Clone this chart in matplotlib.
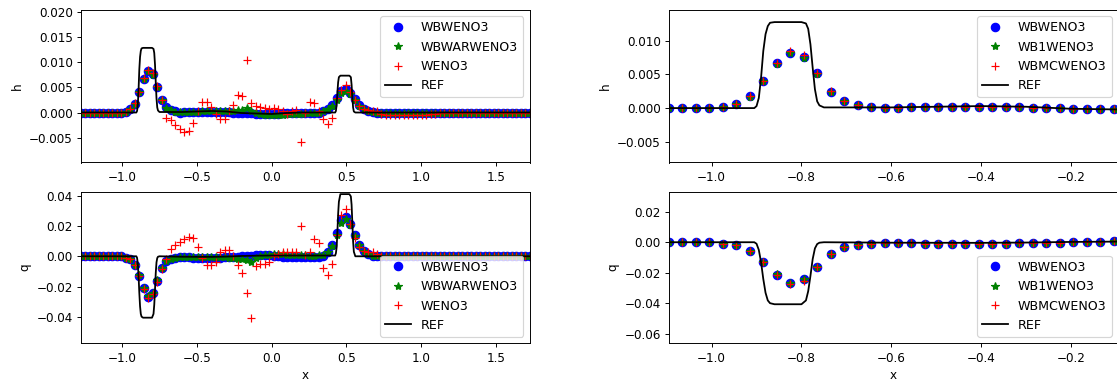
import matplotlib
matplotlib.use("Agg")
import matplotlib.pyplot as plt
from matplotlib.ticker import MultipleLocator

# ---------------- data ----------------
x = [-1.275, -1.245, -1.215, -1.185, -1.155, -1.125, -1.095, -1.065, -1.035, -1.005,
     -0.975, -0.945, -0.915, -0.885, -0.855, -0.825, -0.795, -0.765, -0.735, -0.705,
     -0.675, -0.645, -0.615, -0.585, -0.555, -0.525, -0.495, -0.465, -0.435, -0.405,
     -0.375, -0.345, -0.315, -0.285, -0.255, -0.225, -0.195, -0.165, -0.135, -0.105,
     -0.075, -0.045, -0.015, 0.015, 0.045, 0.075, 0.105, 0.135, 0.165, 0.195,
     0.225, 0.255, 0.285, 0.315, 0.345, 0.375, 0.405, 0.435, 0.465, 0.495,
     0.525, 0.555, 0.585, 0.615, 0.645, 0.675, 0.705, 0.735, 0.765, 0.795,
     0.825, 0.855, 0.885, 0.915, 0.945, 0.975, 1.005, 1.035, 1.065, 1.095,
     1.125, 1.155, 1.185, 1.215, 1.245, 1.275, 1.305, 1.335, 1.365, 1.395,
     1.425, 1.455, 1.485, 1.515, 1.545, 1.575, 1.605, 1.635, 1.665, 1.695, 1.725]

h_wbweno3 = [0, 0, 0, 0, 0, 0, 0, 0, 0, 0,
             0.0001, 0.0006, 0.00175, 0.00405, 0.00665, 0.00825, 0.0076, 0.00515, 0.00245, 0.001,
             0.00045, 0.0002, 0.0, 0.00005, 0.00015, 0.00015, 0.00015, 0.00015, 0.00015, 0.00015,
             0.00015, 0.00015, 0.0001, 0.0001, 0.0, 0.0, -0.0001, -0.0001, -0.00015, -0.0002,
             -0.0003, -0.0003, -0.0003, -0.0002, -0.0002, -0.0001, 0.0, 0.0, 0.0, 0.0,
             0.0, 0.0, 0.0, 0.0, 0.0002, 0.0007, 0.0015, 0.0028, 0.0042, 0.0047,
             0.0039, 0.0027, 0.0014, 0.0007, 0.0003, 0.0001, 0, 0, 0, 0,
             0, 0, 0, 0, 0, 0, 0, 0, 0, 0,
             0, 0, 0, 0, 0, 0, 0, 0, 0, 0,
             0, 0, 0, 0, 0, 0, 0, 0, 0, 0, 0]

h_wbwarweno3 = [0, 0, 0, 0, 0, 0, 0, 0, 0, 0,
                0.0001, 0.0006, 0.0017, 0.004, 0.0066, 0.0082, 0.0075, 0.0051, 0.0024, 0.0009,
                0.0004, 0.0001, 0.0001, 0.0001, 0.0001, 0.0001, 0.0001, 0.0002, 0.0002, 0.0002,
                0.0002, 0.0002, 0.0002, 0.0003, 0.0003, 0.0004, 0.0005, 0.0008, 0.0003, 0.0,
                -0.0002, -0.0004, -0.0005, -0.0005, -0.0005, -0.0004, -0.0003, -0.0002, -0.0002, -0.0002,
                -0.0001, 0.0, 0.0, 0.0, 0.0002, 0.0006, 0.0013, 0.0024, 0.0038, 0.0043,
                0.0036, 0.0025, 0.0013, 0.0006, 0.0003, 0.0001, 0, 0, 0, 0,
                0, 0, 0, 0, 0, 0, 0, 0, 0, 0,
                0, 0, 0, 0, 0, 0, 0, 0, 0, 0,
                0, 0, 0, 0, 0, 0, 0, 0, 0, 0, 0]

h_weno3 = [0, 0, 0, 0, 0, 0, 0, 0, 0, 0,
           0.0001, 0.0006, 0.0018, 0.0041, 0.0068, 0.0085, 0.0078, 0.0053, 0.0025, -0.001,
           -0.0015, -0.0025, -0.0033, -0.0038, -0.0036, -0.002, 0.0003, 0.0021, 0.0021, 0.001,
           -0.0002, -0.0012, -0.0013, 0.0002, 0.0015, 0.0035, 0.0032, 0.0104, 0.0019, 0.0012,
           0.001, 0.0008, 0.0006, 0.0008, 0.0007, 0.0002, -0.0002, 0.0003, 0.0005, -0.0058,
           0.0, 0.0021, 0.0019, 0.0002, -0.0013, -0.0022, -0.001, 0.0028, 0.0045, 0.0055,
           0.004, 0.0025, 0.0012, 0.0007, 0.0005, 0.0003, 0.0002, -0.0002, -0.0005, -0.0005,
           -0.0005, -0.0005, -0.0005, -0.0005, -0.0005, -0.0005, -0.0005, -0.0005, -0.0003, -0.0002,
           -0.0001, 0, 0, 0, 0, 0, 0, 0, 0, 0,
           0, 0, 0, 0, 0, 0, 0, 0, 0, 0, 0]

q_wbweno3 = [0, 0, 0, 0, 0, 0, 0, 0, 0, 0,
             -0.0009, -0.002, -0.0057, -0.0127, -0.0211, -0.0266, -0.0242, -0.016, -0.0079, -0.0029,
             -0.0018, -0.0009, -0.0002, -0.0002, -0.0004, -0.001, -0.001, -0.001, -0.001, -0.001,
             -0.001, -0.001, -0.0004, -0.0004, -0.0004, -0.0002, 0.0004, 0.0004, 0.0004, 0.0007,
             0.0008, 0.0008, 0.0006, 0.0002, 0.0, -0.0002, -0.0003, -0.0003, -0.0003, -0.0003,
             -0.0003, -0.0003, -0.0003, -0.0002, 0.0005, 0.0025, 0.0073, 0.0154, 0.0238, 0.0262,
             0.021, 0.0141, 0.0075, 0.0033, 0.0012, 0.0004, 0.0001, 0, 0, 0,
             0, 0, 0, 0, 0, 0, 0, 0, 0, 0,
             0, 0, 0, 0, 0, 0, 0, 0, 0, 0,
             0, 0, 0, 0, 0, 0, 0, 0, 0, 0, 0]

q_wbwarweno3 = [0, 0, 0, 0, 0, 0, 0, 0, 0, 0,
                -0.0009, -0.002, -0.0056, -0.0125, -0.0208, -0.0262, -0.024, -0.0158, -0.0078, -0.003,
                -0.002, -0.0012, -0.0008, -0.0008, -0.0008, -0.0008, -0.0008, -0.0007, -0.0007, -0.0006,
                -0.0006, -0.0006, -0.0008, -0.001, -0.0012, -0.0015, -0.002, -0.0025, -0.004, -0.001,
                0.0, 0.0008, 0.001, 0.0012, 0.0012, 0.0012, 0.001, 0.001, 0.001, 0.0008,
                0.0006, 0.0005, 0.0005, 0.0006, 0.001, 0.0025, 0.007, 0.014, 0.022, 0.0245,
                0.0205, 0.0135, 0.0072, 0.0032, 0.0012, 0.0004, 0.0001, 0, 0, 0,
                0, 0, 0, 0, 0, 0, 0, 0, 0, 0,
                0, 0, 0, 0, 0, 0, 0, 0, 0, 0,
                0, 0, 0, 0, 0, 0, 0, 0, 0, 0, 0]

q_weno3 = [0, 0, 0, 0, 0, 0, 0, 0, 0, 0,
           -0.0009, -0.002, -0.0058, -0.013, -0.0213, -0.0275, -0.025, -0.017, -0.0082, -0.002,
           0.0048, 0.0075, 0.0097, 0.0115, 0.0126, 0.012, 0.0064, -0.001, -0.006, -0.006,
           -0.0035, 0.0026, 0.004, 0.004, 0.0, -0.0057, -0.011, -0.0242, -0.041, -0.0062,
           -0.005, -0.005, -0.0035, 0.0005, 0.0015, 0.0025, 0.003, 0.003, 0.0025, 0.0198,
           0.001, 0.003, 0.0115, 0.0088, -0.0079, -0.0123, -0.005, 0.014, 0.027, 0.0315,
           0.021, 0.012, 0.006, 0.0037, 0.003, 0.0025, 0.0015, 0.0005, 0.0, 0.0,
           0, 0, 0, 0, 0, 0, 0, 0, 0, 0,
           0, 0, 0, 0, 0, 0, 0, 0, 0, 0,
           0, 0, 0, 0, 0, 0, 0, 0, 0, 0, 0]

# zoomed-panel schemes
x_zoom = [-1.095, -1.065, -1.035, -1.005, -0.975, -0.945, -0.915, -0.885, -0.855, -0.825,
          -0.795, -0.765, -0.735, -0.705, -0.675, -0.645, -0.615, -0.585, -0.555, -0.525,
          -0.495, -0.465, -0.435, -0.405, -0.375, -0.345, -0.315, -0.285, -0.255, -0.225,
          -0.195, -0.165, -0.135, -0.105]
h_wbweno3_zoom = [0, 0, 0, 0, 0.0001, 0.0006, 0.00175, 0.00405, 0.00665, 0.00825,
                  0.0076, 0.00515, 0.00245, 0.001, 0.00045, 0.0002, 0.0, 0.00005, 0.00015, 0.00015,
                  0.00015, 0.00015, 0.00015, 0.00015, 0.00015, 0.00015, 0.0001, 0.0, 0.0, 0.0,
                  -0.0001, -0.0001, -0.00015, -0.0002]
h_wb1weno3 = [0, 0, 0, 0, 0.0001, 0.0006, 0.0017, 0.004, 0.0066, 0.0082,
              0.0075, 0.0051, 0.0024, 0.001, 0.00045, 0.0002, 0.0, 0.00005, 0.00015, 0.00015,
              0.00015, 0.00015, 0.00015, 0.00015, 0.00015, 0.00015, 0.0001, 0.0, 0.0, 0.0,
              -0.0001, -0.0001, -0.00015, -0.0002]
h_wbmcweno3 = [0, 0, 0, 0, 0.0001, 0.0006, 0.0018, 0.0041, 0.0067, 0.0085,
               0.0079, 0.0052, 0.0025, 0.001, 0.00045, 0.0002, 0.0, 0.00005, 0.00015, 0.00015,
               0.00015, 0.00015, 0.00015, 0.00015, 0.00015, 0.00015, 0.0001, 0.0, 0.0, 0.0,
               -0.0001, -0.0001, -0.00015, -0.0002]
q_wbweno3_zoom = [0, 0, 0, 0, -0.0009, -0.002, -0.0057, -0.0127, -0.0211, -0.0266,
                  -0.0242, -0.016, -0.0079, -0.0029, -0.0018, -0.0009, -0.0002, -0.0002, -0.0004, -0.0011,
                  -0.0011, -0.0011, -0.0011, -0.0011, -0.0011, -0.001, -0.0004, -0.0004, -0.0004, -0.0002,
                  0.0004, 0.0004, 0.0004, 0.0007]
q_wb1weno3 = [0, 0, 0, 0, -0.0009, -0.002, -0.0057, -0.0126, -0.021, -0.0265,
              -0.0241, -0.0159, -0.0079, -0.0029, -0.0018, -0.0009, -0.0002, -0.0002, -0.0004, -0.0011,
              -0.0011, -0.0011, -0.0011, -0.0011, -0.0011, -0.001, -0.0004, -0.0004, -0.0004, -0.0002,
              0.0004, 0.0004, 0.0004, 0.0007]
q_wbmcweno3 = [0, 0, 0, 0, -0.0009, -0.002, -0.0058, -0.0128, -0.0214, -0.0275,
               -0.025, -0.0163, -0.008, -0.003, -0.0018, -0.0009, -0.0002, -0.0002, -0.0004, -0.0011,
               -0.0011, -0.0011, -0.0011, -0.0011, -0.0011, -0.001, -0.0004, -0.0004, -0.0004, -0.0002,
               0.0004, 0.0004, 0.0004, 0.0007]

# reference solution
ref_x = [-1.275, -0.905, -0.9, -0.895, -0.89, -0.885, -0.88, -0.875, -0.87, -0.86,
         -0.8, -0.79, -0.785, -0.78, -0.775, -0.77, -0.765, -0.76, -0.75, -0.6,
         -0.4, -0.3, -0.2, -0.1, 0.0, 0.1, 0.2, 0.425, 0.43, 0.435,
         0.44, 0.445, 0.45, 0.46, 0.52, 0.53, 0.535, 0.54, 0.545, 0.55,
         0.56, 1.725]
ref_h = [0.0, 0.0, 0.0003, 0.0015, 0.0045, 0.0085, 0.011, 0.0122, 0.0127, 0.0128,
         0.0128, 0.0126, 0.0118, 0.0095, 0.006, 0.0028, 0.001, 0.0004, 0.0001, 0.0001,
         0.0003, 0.0002, -0.0001, -0.0002, -0.0003, -0.0001, 0.0, 0.0, 0.0003, 0.0015,
         0.004, 0.006, 0.007, 0.0073, 0.0073, 0.007, 0.0055, 0.003, 0.001, 0.0002,
         0.0, 0.0]
ref_q = [0.0, 0.0, -0.001, -0.005, -0.013, -0.024, -0.033, -0.038, -0.0398, -0.0405,
         -0.0405, -0.038, -0.032, -0.022, -0.011, -0.004, -0.0012, -0.0003, 0.0, -0.0003,
         -0.0004, -0.0002, 0.0002, 0.0004, 0.0005, 0.0005, 0.0005, 0.0005, 0.002, 0.006,
         0.016, 0.028, 0.036, 0.041, 0.041, 0.0395, 0.034, 0.022, 0.01, 0.003,
         0.0, 0.0]

# ---------------- figure ----------------
W, H = 1117, 383
DPI = 86
fig = plt.figure(figsize=(W / DPI, H / DPI), dpi=DPI)

MS_O, MS_STAR, MS_PLUS = 7, 7, 7.5
LEGEND_FS = 10.6


def add_ax(x0, y0, x1, y1):
    return fig.add_axes([x0 / W, (H - y1) / H, (x1 - x0) / W, (y1 - y0) / H])


def draw(ax, xs, s1, s2, s3, names, ref_y, xlim, ylim, ystep, xstep, ylabel, loc):
    ax.plot(xs[0], s1, 'bo', ms=MS_O, label=names[0])
    ax.plot(xs[1], s2, 'g*', ms=MS_STAR, label=names[1])
    ax.plot(xs[2], s3, 'r+', ms=MS_PLUS, label=names[2])
    ax.plot(ref_x, ref_y, 'k-', label='REF')
    ax.set_xlim(*xlim)
    ax.set_ylim(*ylim)
    ax.yaxis.set_major_locator(MultipleLocator(ystep))
    ax.xaxis.set_major_locator(MultipleLocator(xstep))
    ax.set_ylabel(ylabel)
    ax.set_xlabel('x')
    ax.legend(loc=loc, fontsize=LEGEND_FS)


ax_tl = add_ax(81, 10, 529.5, 162.5)
ax_tr = add_ax(669, 10, 1118, 162.5)
ax_bl = add_ax(81, 191.7, 529.5, 343.3)
ax_br = add_ax(669, 191.7, 1118, 343.3)

draw(ax_tl, (x, x, x), h_wbweno3, h_wbwarweno3, h_weno3,
     ('WBWENO3', 'WBWARWENO3', 'WENO3'), ref_h,
     (-1.275, 1.725), (-0.0099, 0.0203), 0.005, 0.5, 'h', 'upper right')
draw(ax_bl, (x, x, x), q_wbweno3, q_wbwarweno3, q_weno3,
     ('WBWENO3', 'WBWARWENO3', 'WENO3'), ref_q,
     (-1.275, 1.725), (-0.0574, 0.0426), 0.02, 0.5, 'q', 'lower right')
draw(ax_tr, (x_zoom, x_zoom, x_zoom), h_wbweno3_zoom, h_wb1weno3, h_wbmcweno3,
     ('WBWENO3', 'WB1WENO3', 'WBMCWENO3'), ref_h,
     (-1.095, -0.095), (-0.0081, 0.0146), 0.005, 0.2, 'h', 'upper right')
draw(ax_br, (x_zoom, x_zoom, x_zoom), q_wbweno3_zoom, q_wb1weno3, q_wbmcweno3,
     ('WBWENO3', 'WB1WENO3', 'WBMCWENO3'), ref_q,
     (-1.095, -0.095), (-0.066, 0.033), 0.02, 0.2, 'q', 'lower right')

fig.savefig('out.png', dpi=DPI)
